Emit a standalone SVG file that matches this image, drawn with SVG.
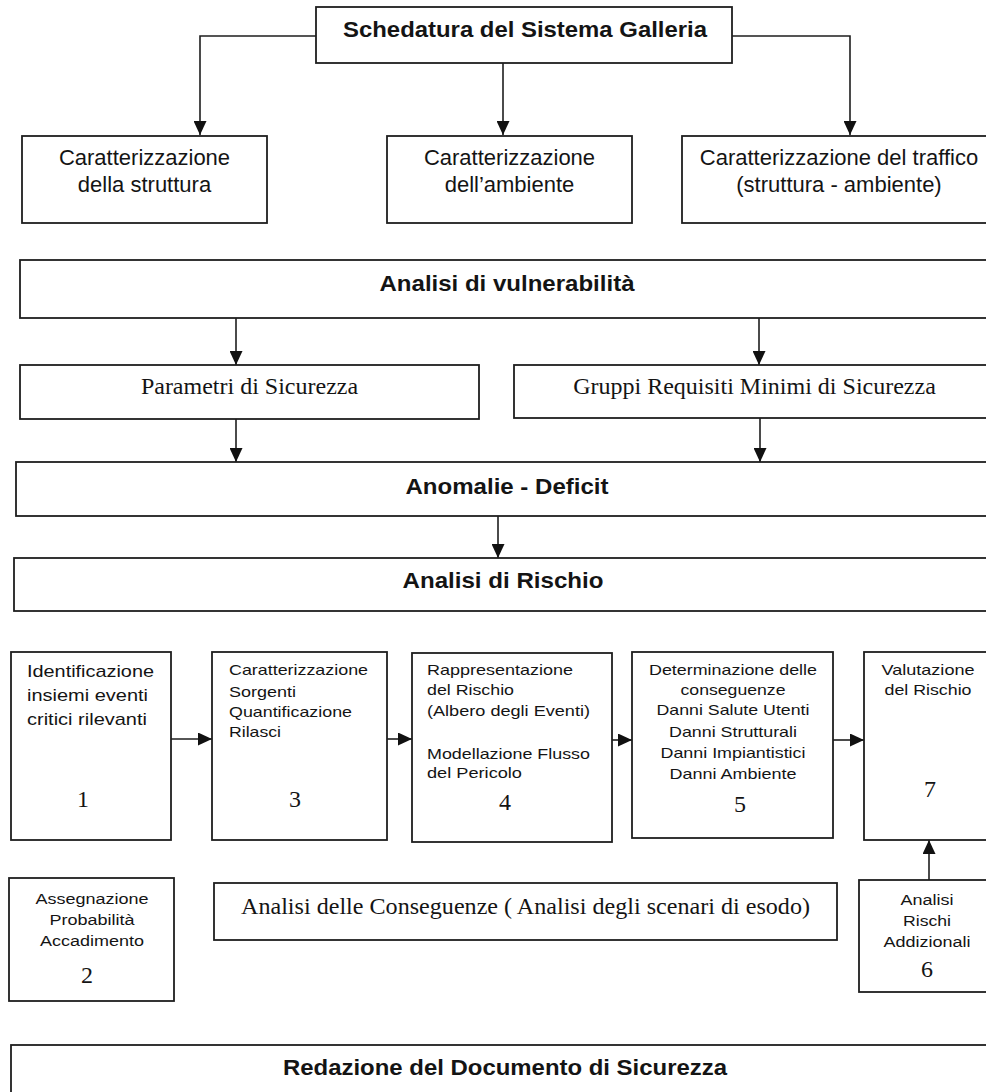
<svg xmlns="http://www.w3.org/2000/svg" width="986" height="1092" viewBox="0 0 986 1092">
<style>
.box{fill:#fff;stroke:#1e1e1e;stroke-width:1.8}
.con{fill:none;stroke:#1e1e1e;stroke-width:1.6}
.sans{font-family:"Liberation Sans",Arial,sans-serif;fill:#141414}
.big{font-size:22px}
.bold{font-size:22.5px;font-weight:bold}
.sm{font-size:15px}
.xs{font-size:14px}
.md{font-size:17px}
.serif{font-family:"Liberation Serif","Times New Roman",serif;font-size:24px;fill:#141414}
.c{text-anchor:middle}
</style>
<defs>
<marker id="ah" markerUnits="userSpaceOnUse" markerWidth="14" markerHeight="13" refX="14" refY="6.5" orient="auto">
<path d="M0,0 L14,6.5 L0,13 Z" fill="#111"/>
</marker>
</defs>
<rect width="986" height="1092" fill="#fff"/>

<g id="connectors">
<path class="con" d="M316,36 H200 V135" marker-end="url(#ah)"/>
<path class="con" d="M503,63 V135" marker-end="url(#ah)"/>
<path class="con" d="M732,36 H850 V135" marker-end="url(#ah)"/>
<path class="con" d="M236,318 V365" marker-end="url(#ah)"/>
<path class="con" d="M759,318 V365" marker-end="url(#ah)"/>
<path class="con" d="M236,419 V462" marker-end="url(#ah)"/>
<path class="con" d="M760,418 V462" marker-end="url(#ah)"/>
<path class="con" d="M498,516 V558" marker-end="url(#ah)"/>
<path class="con" d="M171,739 H212" marker-end="url(#ah)"/>
<path class="con" d="M387,739 H412" marker-end="url(#ah)"/>
<path class="con" d="M612,740 H632" marker-end="url(#ah)"/>
<path class="con" d="M833,740 H864" marker-end="url(#ah)"/>
<path class="con" d="M929,880 V840" marker-end="url(#ah)"/>
</g>

<g id="schedatura">
<rect class="box" x="316" y="7" width="416" height="56"/>
<text class="sans bold c" x="525" y="37" textLength="364" lengthAdjust="spacingAndGlyphs">Schedatura del Sistema Galleria</text>
</g>

<g id="car-struttura">
<rect class="box" x="22" y="136" width="245" height="87"/>
<text class="sans big c" x="144.5" y="165">Caratterizzazione</text>
<text class="sans big c" x="144.5" y="192">della struttura</text>
</g>

<g id="car-ambiente">
<rect class="box" x="387" y="136" width="245" height="87"/>
<text class="sans big c" x="509.5" y="165">Caratterizzazione</text>
<text class="sans big c" x="509.5" y="192">dell’ambiente</text>
</g>

<g id="car-traffico">
<rect class="box" x="682" y="136" width="320" height="87"/>
<text class="sans big c" x="839" y="165">Caratterizzazione del traffico</text>
<text class="sans big c" x="839" y="192">(struttura - ambiente)</text>
</g>

<g id="vulnerabilita">
<rect class="box" x="20" y="260" width="980" height="58"/>
<text class="sans bold c" x="507" y="291" textLength="255" lengthAdjust="spacingAndGlyphs">Analisi di vulnerabilità</text>
</g>

<g id="parametri">
<rect class="box" x="20" y="365" width="459" height="54"/>
<text class="serif c" x="249.5" y="394">Parametri di Sicurezza</text>
</g>

<g id="gruppi">
<rect class="box" x="514" y="365" width="486" height="53"/>
<text class="serif c" x="754.5" y="394">Gruppi Requisiti Minimi di Sicurezza</text>
</g>

<g id="anomalie">
<rect class="box" x="16" y="462" width="984" height="54"/>
<text class="sans bold c" x="507" y="494" textLength="203" lengthAdjust="spacingAndGlyphs">Anomalie - Deficit</text>
</g>

<g id="rischio">
<rect class="box" x="14" y="558" width="986" height="53"/>
<text class="sans bold c" x="503" y="588" textLength="201" lengthAdjust="spacingAndGlyphs">Analisi di Rischio</text>
</g>

<g id="box1">
<rect class="box" x="11" y="652" width="160" height="188"/>
<text class="sans md" x="27" y="677" textLength="127" lengthAdjust="spacingAndGlyphs">Identificazione</text>
<text class="sans md" x="27" y="701" textLength="121" lengthAdjust="spacingAndGlyphs">insiemi eventi</text>
<text class="sans md" x="27" y="725" textLength="120" lengthAdjust="spacingAndGlyphs">critici rilevanti</text>
<text class="serif c" x="83" y="807">1</text>
</g>

<g id="box3">
<rect class="box" x="212" y="652" width="175" height="188"/>
<text class="sans sm" x="229" y="675" textLength="139" lengthAdjust="spacingAndGlyphs">Caratterizzazione</text>
<text class="sans sm" x="229" y="697" textLength="67" lengthAdjust="spacingAndGlyphs">Sorgenti</text>
<text class="sans sm" x="229" y="717" textLength="123" lengthAdjust="spacingAndGlyphs">Quantificazione</text>
<text class="sans sm" x="229" y="737" textLength="52" lengthAdjust="spacingAndGlyphs">Rilasci</text>
<text class="serif c" x="295" y="807">3</text>
</g>

<g id="box4">
<rect class="box" x="412" y="653" width="200" height="189"/>
<text class="sans sm" x="427" y="675" textLength="146" lengthAdjust="spacingAndGlyphs">Rappresentazione</text>
<text class="sans sm" x="427" y="695" textLength="87" lengthAdjust="spacingAndGlyphs">del Rischio</text>
<text class="sans sm" x="427" y="716" textLength="163" lengthAdjust="spacingAndGlyphs">(Albero degli Eventi)</text>
<text class="sans sm" x="427" y="759" textLength="163" lengthAdjust="spacingAndGlyphs">Modellazione Flusso</text>
<text class="sans sm" x="427" y="778" textLength="95" lengthAdjust="spacingAndGlyphs">del Pericolo</text>
<text class="serif c" x="505" y="810">4</text>
</g>

<g id="box5">
<rect class="box" x="632" y="652" width="201" height="186"/>
<text class="sans sm c" x="733" y="675" textLength="168" lengthAdjust="spacingAndGlyphs">Determinazione delle</text>
<text class="sans sm c" x="733" y="695" textLength="105" lengthAdjust="spacingAndGlyphs">conseguenze</text>
<text class="sans sm c" x="733" y="715" textLength="153" lengthAdjust="spacingAndGlyphs">Danni Salute Utenti</text>
<text class="sans sm c" x="733" y="737" textLength="128" lengthAdjust="spacingAndGlyphs">Danni Strutturali</text>
<text class="sans sm c" x="733" y="758" textLength="145" lengthAdjust="spacingAndGlyphs">Danni Impiantistici</text>
<text class="sans sm c" x="733" y="779" textLength="127" lengthAdjust="spacingAndGlyphs">Danni Ambiente</text>
<text class="serif c" x="740" y="812">5</text>
</g>

<g id="box7">
<rect class="box" x="864" y="652" width="136" height="188"/>
<text class="sans sm c" x="928" y="675" textLength="93" lengthAdjust="spacingAndGlyphs">Valutazione</text>
<text class="sans sm c" x="928" y="695" textLength="87" lengthAdjust="spacingAndGlyphs">del Rischio</text>
<text class="serif c" x="930" y="797">7</text>
</g>

<g id="box2">
<rect class="box" x="9" y="878" width="165" height="123"/>
<text class="sans xs c" x="92" y="904" textLength="113" lengthAdjust="spacingAndGlyphs">Assegnazione</text>
<text class="sans xs c" x="92" y="925" textLength="85" lengthAdjust="spacingAndGlyphs">Probabilità</text>
<text class="sans xs c" x="92" y="946" textLength="104" lengthAdjust="spacingAndGlyphs">Accadimento</text>
<text class="serif c" x="87" y="983">2</text>
</g>

<g id="conseguenze">
<rect class="box" x="214" y="883" width="623" height="57"/>
<text class="serif c" x="525.5" y="914" textLength="569" lengthAdjust="spacingAndGlyphs">Analisi delle Conseguenze ( Analisi degli scenari di esodo)</text>
</g>

<g id="box6">
<rect class="box" x="859" y="880" width="141" height="112"/>
<text class="sans xs c" x="927" y="905" textLength="53" lengthAdjust="spacingAndGlyphs">Analisi</text>
<text class="sans xs c" x="927" y="926" textLength="48" lengthAdjust="spacingAndGlyphs">Rischi</text>
<text class="sans xs c" x="927" y="947" textLength="87" lengthAdjust="spacingAndGlyphs">Addizionali</text>
<text class="serif c" x="927" y="977">6</text>
</g>

<g id="redazione">
<rect class="box" x="11" y="1045" width="990" height="70"/>
<text class="sans bold c" x="505" y="1075" textLength="444" lengthAdjust="spacingAndGlyphs">Redazione del Documento di Sicurezza</text>
</g>
</svg>
